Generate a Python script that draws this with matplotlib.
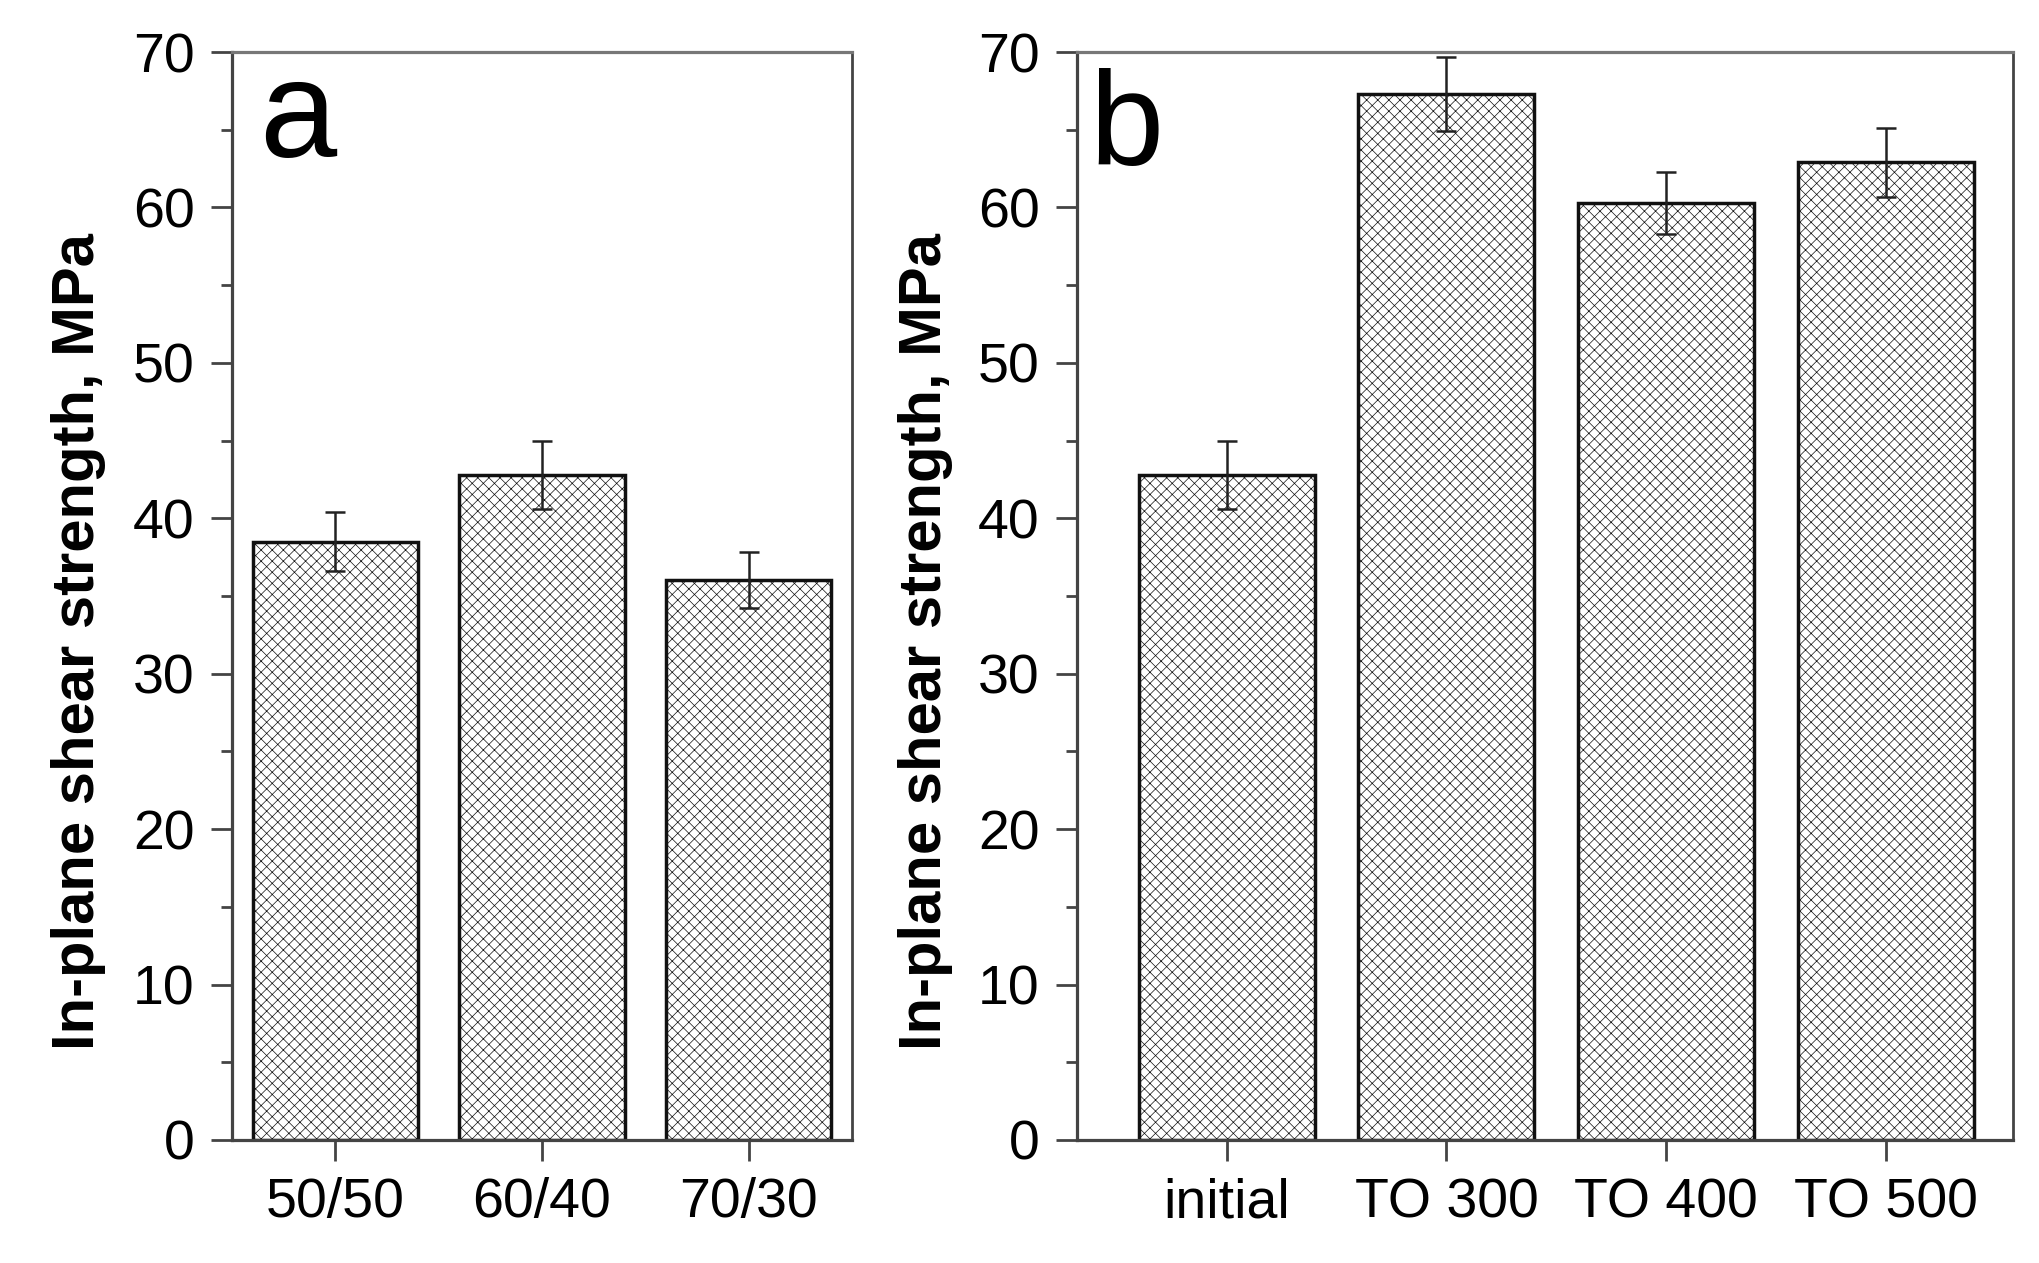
import matplotlib
matplotlib.use('Agg')
from matplotlib import pyplot as plt
from matplotlib.ticker import MultipleLocator

# panel a
ratio_labels = ['50/50', '60/40', '70/30']
ratio_strength = [38.5, 42.8, 36.0]
ratio_err = [1.9, 2.2, 1.8]

# panel b
treat_labels = ['initial', 'TO 300', 'TO 400', 'TO 500']
treat_strength = [42.8, 67.3, 60.3, 62.9]
treat_err = [2.2, 2.4, 2.0, 2.2]

plt.rcParams['font.family'] = ['Liberation Sans', 'DejaVu Sans']
plt.rcParams['hatch.color'] = '#cecece'
plt.rcParams['hatch.linewidth'] = 0.5


def draw_panel(ax, labels, vals, errs, letter, xlim, letter_pos, label_x, letter_size):
    x = range(len(labels))
    ax.bar(x, vals, width=0.8, color='white', edgecolor='#111111',
           linewidth=2.5, hatch='xxx', zorder=2)
    ax.errorbar(x, vals, yerr=errs, fmt='none', ecolor='#222222',
                elinewidth=1.8, capsize=7.5, capthick=1.8, zorder=3)
    ax.set_xlim(*xlim)
    ax.set_ylim(0, 70)
    ax.set_xticks(list(x))
    ax.set_xticklabels(labels)
    ax.yaxis.set_major_locator(MultipleLocator(10))
    ax.yaxis.set_minor_locator(MultipleLocator(5))
    ax.tick_params(axis='both', which='major', direction='out', length=15,
                   width=2, color='#444444', labelsize=40, pad=12)
    ax.tick_params(axis='y', which='minor', direction='out', length=8,
                   width=2, color='#444444')
    for s in ['left', 'bottom']:
        ax.spines[s].set_linewidth(2.3)
        ax.spines[s].set_color('#444444')
    ax.spines['top'].set_linewidth(2.3)
    ax.spines['top'].set_color('#777777')
    ax.spines['right'].set_linewidth(2.0)
    ax.spines['right'].set_color('#444444')
    ax.set_ylabel('In-plane shear strength, MPa', fontsize=43,
                  fontweight='bold')
    ax.yaxis.set_label_coords(label_x, 0.458)
    ax.yaxis.label.set_verticalalignment('center')
    ax.text(letter_pos[0], letter_pos[1], letter, transform=ax.transAxes,
            fontsize=letter_size, va='baseline', ha='left')


fig = plt.figure(figsize=(20.4, 12.63), dpi=100)
ax1 = fig.add_axes([0.1137, 0.0974, 0.3039, 0.8614])
ax2 = fig.add_axes([0.528, 0.0974, 0.459, 0.8614])

draw_panel(ax1, ratio_labels, ratio_strength, ratio_err, 'a', (-0.5, 2.5),
           (0.044, 0.9035), -0.248, 100)
draw_panel(ax2, treat_labels, treat_strength, treat_err, 'b', (-0.68, 3.58),
           (0.013, 0.896), -0.162, 96)

plt.savefig('out.png', dpi=100)
